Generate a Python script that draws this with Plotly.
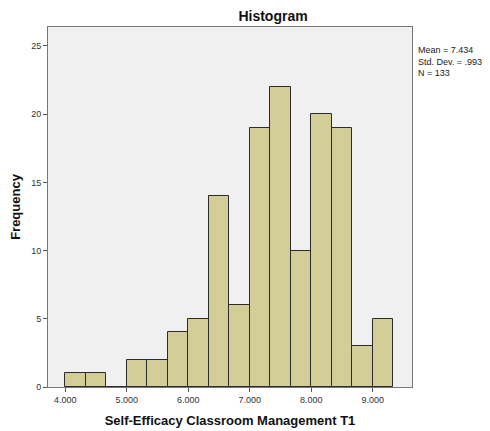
import plotly.graph_objects as go

bin_starts = [4.0, 4.3333, 4.6667, 5.0, 5.3333, 5.6667, 6.0, 6.3333, 6.6667,
              7.0, 7.3333, 7.6667, 8.0, 8.3333, 8.6667, 9.0]
counts = [1, 1, 0, 2, 2, 4, 5, 14, 6, 19, 22, 10, 20, 19, 3, 5]
bin_width = 1/3
x_ticks = [4, 5, 6, 7, 8, 9]
y_ticks = [0, 5, 10, 15, 20, 25]
stats_text = "Mean = 7.434<br>Std. Dev. = .993<br>N = 133"

centers = [s + bin_width/2 for s in bin_starts]

fig = go.Figure(go.Bar(
    x=centers, y=counts, width=bin_width,
    marker=dict(color="#D3CE97", line=dict(color="#2b2b2b", width=1)),
    hoverinfo="skip"
))

font = "Liberation Sans, Arial, sans-serif"
W, H = 482, 423
fig.update_layout(
    width=W, height=H,
    margin=dict(l=40, r=78, t=19, b=44, autoexpand=False),
    paper_bgcolor="white", plot_bgcolor="#F0F0F0",
    showlegend=False, bargap=0,
    font=dict(family=font, size=9, color="#333"),
    title=dict(text="<b>Histogram</b>", x=265/W, xanchor="center",
               y=1-8/H, yanchor="middle", font=dict(size=14, color="#111")),
    xaxis=dict(range=[3.72, 9.64], tickvals=x_ticks, tickformat=".3f",
               ticks="outside", ticklen=4, tickcolor="#555", automargin=False,
               showline=True, linecolor="#777", linewidth=1, mirror=True,
               showgrid=False, zeroline=False,
               title=dict(text="<b>Self-Efficacy Classroom Management T1</b>",
                          font=dict(size=13, color="#111"), standoff=12)),
    yaxis=dict(range=[0, 26.39], tickvals=y_ticks, automargin=False,
               ticks="outside", ticklen=4, tickcolor="#555",
               showline=True, linecolor="#777", linewidth=1, mirror=True,
               showgrid=False, zeroline=False,
               title=dict(text="<b>Frequency</b>", font=dict(size=13, color="#111"),
                          standoff=8)),
    annotations=[dict(text=stats_text, xref="paper", yref="paper",
                      x=1.012, y=0.955, xanchor="left", yanchor="top",
                      showarrow=False, align="left",
                      font=dict(size=9, color="#222"))]
)

fig.write_html("out.html")
